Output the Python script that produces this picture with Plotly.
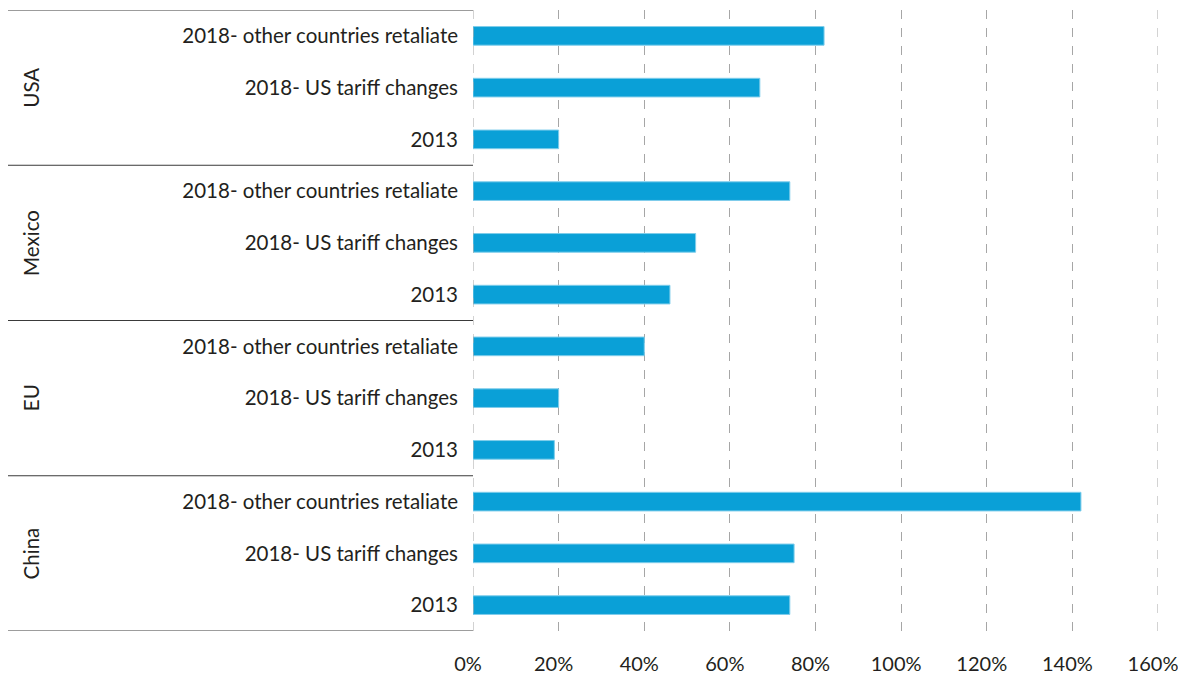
import plotly.graph_objects as go

groups = ["USA", "Mexico", "EU", "China"]
scenarios = ["2018- other countries retaliate", "2018- US tariff changes", "2013"]
usa = [82, 67, 20]
mexico = [74, 52, 46]
eu = [40, 20, 19]
china = [142, 75, 74]
x_ticks = [0, 20, 40, 60, 80, 100, 120, 140, 160]
x_tick_labels = ["0%", "20%", "40%", "60%", "80%", "100%", "120%", "140%", "160%"]

series = [usa, mexico, eu, china]
values, labels, positions = [], [], []
i = 0
for g, vals in zip(groups, series):
    for s, v in zip(scenarios, vals):
        values.append(v)
        labels.append(s)
        positions.append(i)
        i += 1

W, H = 1178, 674
plot_l, plot_r, plot_t, plot_b = 473, 1158, 10, 631
ml, mr, mt, mb = plot_l, W - plot_r, plot_t, H - plot_b
pw = W - ml - mr

fig = go.Figure()
fig.add_trace(go.Bar(
    x=values, y=positions, orientation="h",
    marker=dict(color="#0AA0D7", line=dict(color="#7FCDEB", width=1)),
    width=0.36, hoverinfo="x+y",
))

font = "Lato, 'Open Sans', sans-serif"
fig.update_layout(
    width=W, height=H,
    margin=dict(l=ml, r=mr, t=mt, b=mb, autoexpand=False),
    paper_bgcolor="white", plot_bgcolor="white",
    showlegend=False,
    font=dict(family=font, size=20, color="#231F20"),
    xaxis=dict(
        range=[0, 160], tickvals=x_ticks, ticktext=x_tick_labels,
        showgrid=True, gridcolor="#A6A6A6", griddash="dash", gridwidth=1,
        zeroline=False, showline=False, ticks="", automargin=False,
        ticklabelstandoff=19, ticklabelshift=-5, ticklabeloverflow="allow",
        fixedrange=True, tickfont=dict(size=20),
    ),
    yaxis=dict(
        range=[len(values) - 0.5, -0.5], tickvals=positions, ticktext=labels,
        showgrid=False, zeroline=False, showline=False, ticks="", automargin=False,
        ticklabelstandoff=14, ticklabeloverflow="allow",
        fixedrange=True, tickfont=dict(size=20.5),
    ),
)

# vertical dashed lines at the range ends
for xv in (0, 160):
    fig.add_shape(type="line", xref="x", yref="paper", x0=xv, x1=xv, y0=0, y1=1,
                  line=dict(color="#A6A6A6", width=1, dash="dash"))

# group separator lines
x_left = (8 - plot_l) / pw
for k in range(len(groups) + 1):
    yb = k * len(scenarios) - 0.5
    fig.add_shape(type="line", xref="paper", yref="y", x0=x_left, x1=0, y0=yb, y1=yb,
                  line=dict(color="#3A3A3A", width=1))

# group labels
for k, g in enumerate(groups):
    yc = k * len(scenarios) + (len(scenarios) - 1) / 2
    fig.add_annotation(x=(31 - plot_l) / pw, y=yc, xref="paper", yref="y", text=g,
                       textangle=-90, showarrow=False, xanchor="center", yanchor="middle",
                       font=dict(family=font, size=20.5, color="#231F20"))

fig.write_html(
    "out.html",
    config={"displayModeBar": False},
    post_script="document.body.style.margin='0';document.body.style.overflow='hidden';",
)
